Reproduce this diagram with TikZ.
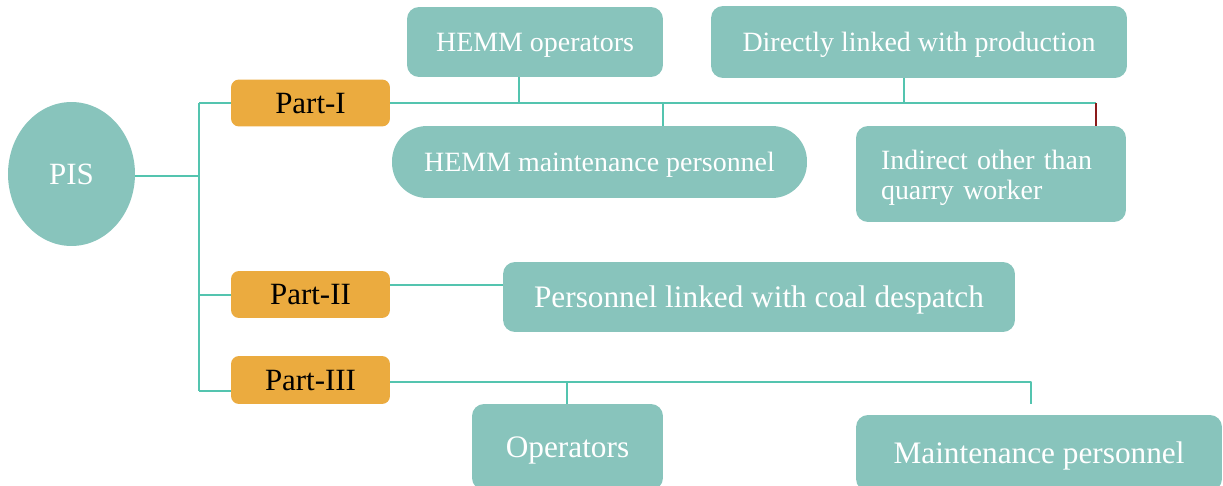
\documentclass[tikz,border=0pt]{standalone}
\usepackage{fontspec}
\setmainfont{Liberation Serif}
\usetikzlibrary{shapes.geometric}
\definecolor{tealbox}{HTML}{88C4BC}
\definecolor{partbox}{HTML}{EBAB3F}
\definecolor{linkcol}{HTML}{54C4AF}
\definecolor{redlink}{HTML}{8B1A1A}
\begin{document}
\begin{tikzpicture}[x=0.02cm,y=-0.02cm,
	part/.style={fill=partbox,rounded corners=0.16cm,minimum width=3.18cm,minimum height=0.94cm,inner sep=0pt,text depth=0pt,font=\fontsize{17.6}{20}\selectfont},
	leaf/.style={fill=tealbox,rounded corners=0.24cm,inner sep=0pt,text depth=0pt,text=white,font=\fontsize{15.9}{17}\selectfont},
	bigleaf/.style={leaf,font=\fontsize{17.8}{20}\selectfont},
	link/.style={draw=linkcol,line width=1.1pt}]
	\useasboundingbox (0,0) rectangle (1223,486) ;
	\node[ellipse,fill=tealbox,minimum width=2.54cm,minimum height=2.88cm,inner sep=0pt,text depth=0pt,text=white,font=\fontsize{17.6}{20}\selectfont] (pis) at (71.5,174) {PIS} ;
	\node[part] (p1) at (310.5,103) {Part-I} ;
	\node[part] (p2) at (310.5,294.5) {Part-II} ;
	\node[part,minimum height=0.96cm] (p3) at (310.5,380) {Part-III} ;
	\node[leaf,minimum width=5.12cm,minimum height=1.4cm] (hop) at (535,42) {HEMM operators} ;
	\node[leaf,minimum width=8.32cm,minimum height=1.44cm] (dlp) at (919,42) {Directly linked with production} ;
	\node[leaf,rounded corners=0.7cm,minimum width=8.3cm,minimum height=1.44cm] (hmp) at (599.5,162) {HEMM maintenance personnel} ;
	\node[leaf,minimum width=5.4cm,minimum height=1.92cm,text width=4.4cm,align=left,text depth=0.56cm] (ind) at (991,174) {Indirect other than\\quarry worker} ;
	\node[bigleaf,minimum width=10.24cm,minimum height=1.4cm] (pld) at (759,297) {Personnel linked with coal despatch} ;
	\node[bigleaf,minimum width=3.82cm,minimum height=1.72cm] (ops) at (567.5,447) {Operators} ;
	\node[bigleaf,minimum width=7.32cm,minimum height=1.52cm] (mp) at (1039,453) {Maintenance personnel} ;
	\coordinate (jpis) at (199,176) ;
	\coordinate (t1) at (199,103) ;
	\coordinate (t2) at (199,295) ;
	\coordinate (t3) at (199,391) ;
	\coordinate (b1) at (1096,103) ;
	\coordinate (s1) at (519,103) ;
	\coordinate (s2) at (663,103) ;
	\coordinate (s3) at (904,103) ;
	\coordinate (c2) at (390,285) ;
	\coordinate (c3) at (390,382) ;
	\coordinate (s4) at (567,382) ;
	\coordinate (s5) at (1031,382) ;
	\coordinate (s5e) at (1031,404) ;
	\draw[link] (jpis -| pis.east) -- (jpis) (t1) -- (t3)
	(t1) -- (t1 -| p1.west) (t2) -- (t2 -| p2.west) (t3) -- (t3 -| p3.west) ;
	\draw[link] (p1.east) -- (b1)
	(s1) -- (s1 |- hop.south) (s2) -- (s2 |- hmp.north) (s3) -- (s3 |- dlp.south) ;
	\draw[draw=redlink,line width=1.1pt] (b1) -- (b1 |- ind.north) ;
	\draw[link] (c2) -- (c2 -| pld.west) ;
	\draw[link,line join=bevel] (c3) -- (s5) -- (s5e) (s4) -- (s4 |- ops.north) ;
\end{tikzpicture}
\end{document}
